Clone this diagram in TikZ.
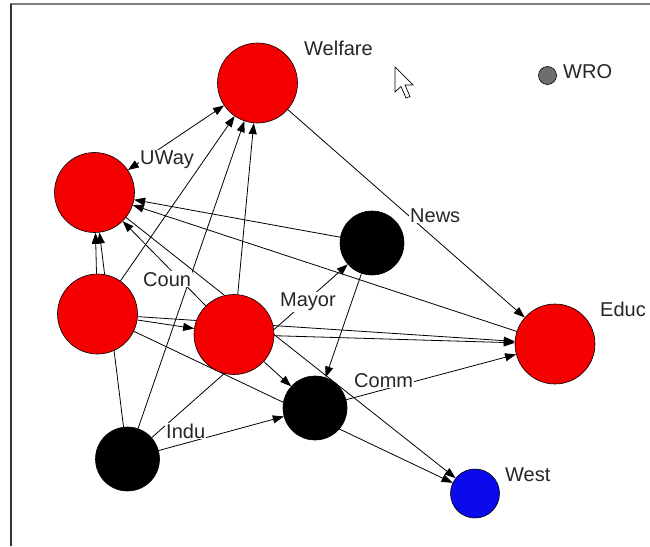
\documentclass[tikz,border=0pt]{standalone}
\usepackage{fontspec}
\setmainfont{Liberation Sans}
\usetikzlibrary{arrows.meta}
\pgfdeclarelayer{bg}
\pgfsetlayers{bg,main}

\definecolor{pjred}{RGB}{245,0,0}
\definecolor{pjblue}{RGB}{10,10,235}
\definecolor{pjgray}{RGB}{110,110,110}

\begin{document}
\begin{tikzpicture}[x=1pt, y=-1pt, >={Triangle[length=11pt,width=8pt]}]
\tikzset{
  actor/.style={draw=black, circle, inner sep=0pt, line width=.6pt},
  bigactor/.style={actor, minimum size=80pt},
  smallactor/.style={actor, minimum size=64pt, fill=black},
  tag/.style={anchor=base west, fill=white, inner sep=1pt,
    text=black!85, font=\fontsize{20}{24}\selectfont},
  link/.style={->, line width=.8pt}
}
\useasboundingbox (0,0) rectangle (650,546);
\draw[gray, line width=1.2pt] (10,4) -- (650,4);
\draw[black!80, line width=1.5pt] (11,4) -- (11,546);

\node[bigactor, fill=pjred] (welfare) at (257.5, 83)  {};
\node[bigactor, fill=pjred] (uway)    at (94.5, 192.5) {};
\node[bigactor, fill=pjred] (coun)    at (97.5, 314)  {};
\node[bigactor, fill=pjred] (mayor)   at (234, 334.5) {};
\node[bigactor, fill=pjred] (educ)    at (555, 344)   {};
\node[smallactor] (news) at (372, 243) {};
\node[smallactor] (comm) at (315, 408) {};
\node[smallactor] (indu) at (127.5, 459) {};
\node[actor, minimum size=49pt, fill=pjblue] (west) at (475, 493.5) {};
\node[actor, minimum size=18pt, fill=pjgray] (wro) at (547.5, 75.5) {};

% mouse pointer
\draw[fill=white, line width=.7pt, line join=round]
  (395,67) -- (395,92) -- (401,86.5) -- (406,98) -- (410,96.5) -- (405,85) -- (413,85) -- cycle;

\begin{pgfonlayer}{bg}
\draw[link, <->] (uway) -- (welfare);
\draw[link] (coun)  -- (welfare);
\draw[link] (indu)  -- (welfare);
\draw[link] (mayor) -- (welfare);
\draw[link] (welfare) -- (educ);
\draw[link] (news)  -- (uway);
\draw[link] (educ)  -- (uway);
\draw[link] (mayor) -- (uway);
\draw[link] (indu)  -- (uway);
\draw[link] (coun)  -- (uway);
\draw[link] (coun)  -- (mayor);
\draw[link] (coun)  -- (educ);
\draw[link] (mayor) -- (educ);
\draw[link] (coun)  -- (west);
\draw[link] (uway)  -- (west);
\draw[link] (mayor) -- (comm);
\draw[link] (news)  -- (comm);
\draw[link] (indu)  -- (comm);
\draw[link] (indu)  -- (news);
\draw[link] (comm)  -- (educ);
\end{pgfonlayer}

\node[tag] (welfaretxt) at (303, 55)    {Welfare};
\node[tag] (wrotxt)     at (562, 78)    {WRO};
\node[tag] (uwaytxt)    at (139, 164.5) {UWay};
\node[tag] (countxt)    at (142, 286)   {Coun};
\node[tag] (mayortxt)   at (279, 306.5) {Mayor};
\node[tag] (eductxt)    at (599, 316)   {Educ};
\node[tag] (newstxt)    at (409, 222)   {News};
\node[tag] (commtxt)    at (353, 387)   {Comm};
\node[tag] (indutxt)    at (165, 438)   {Indu};
\node[tag] (westtxt)    at (504, 481)   {West};
\end{tikzpicture}
\end{document}
